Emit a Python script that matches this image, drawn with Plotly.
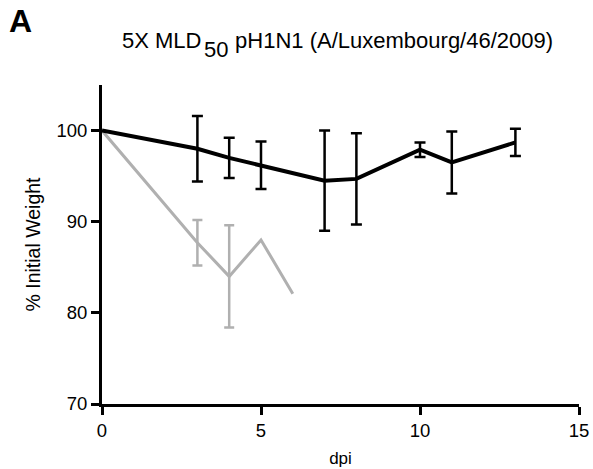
import plotly.graph_objects as go

# Data
dpi_a = [0, 3, 4, 5, 7, 8, 10, 11, 13]
weight_a = [100, 98.0, 97.0, 96.2, 94.5, 94.7, 97.9, 96.5, 98.7]
err_a = [None, 3.6, 2.2, 2.6, 5.5, 5.0, 0.8, 3.4, 1.5]

dpi_b = [0, 3, 4, 5, 6]
weight_b = [100, 87.7, 84.0, 88.0, 82.1]
err_b = [None, 2.5, 5.6, None, None]

x_ticks = [0, 5, 10, 15]
y_ticks = [70, 80, 90, 100]

title_pre = "5X MLD"
title_sub = "50"
title_post = " pH1N1 (A/Luxembourg/46/2009)"

BLACK = "#000000"
GRAY = "#b0b0b0"
FONT = "Liberation Sans, Arial, sans-serif"

W, H = 593, 469
ML, MR, MT, MB = 102, 14, 85, 65

fig = go.Figure()


def add_series(x, y, e, color, lw, ew, cap):
    ex = [xi for xi, ei in zip(x, e) if ei is not None]
    ey = [yi for yi, ei in zip(y, e) if ei is not None]
    ee = [ei for ei in e if ei is not None]
    fig.add_trace(go.Scatter(
        x=ex, y=ey, mode="markers", marker=dict(size=0.1, color=color, opacity=0),
        error_y=dict(type="data", array=ee, visible=True, color=color,
                     thickness=ew, width=cap),
        showlegend=False, hoverinfo="skip", cliponaxis=False))
    fig.add_trace(go.Scatter(
        x=x, y=y, mode="lines", line=dict(color=color, width=lw),
        showlegend=False, cliponaxis=False))


add_series(dpi_b, weight_b, err_b, GRAY, 3, 2.5, 5)
add_series(dpi_a, weight_a, err_a, BLACK, 4, 2.5, 5.5)


def px_x(px):
    return (px - ML) / (W - ML - MR)


def px_y(py):
    return 1 - (py - MT) / (H - MT - MB)


TFS = 22
title_y = 40
split_x = 202

fig.update_layout(
    width=W, height=H,
    margin=dict(l=ML, r=MR, t=MT, b=MB),
    paper_bgcolor="white", plot_bgcolor="white",
    font=dict(family=FONT, color="black", size=18),
    showlegend=False,
    xaxis=dict(range=[0, 15], tickvals=x_ticks, showline=True, linecolor="black",
               linewidth=3, ticks="outside", ticklen=8, tickwidth=3,
               tickcolor="black", showgrid=False, zeroline=False, automargin=False,
               tickfont=dict(size=18.5, family=FONT),
               title=dict(text="dpi", font=dict(size=17, family=FONT), standoff=12)),
    yaxis=dict(range=[70, 105], tickvals=y_ticks, showline=True, linecolor="black",
               linewidth=3, ticks="outside", ticklen=8, tickwidth=3,
               tickcolor="black", showgrid=False, zeroline=False, automargin=False,
               tickfont=dict(size=18.5, family=FONT),
               title=dict(text="% Initial Weight", font=dict(size=19.5, family=FONT),
                          standoff=11)),
    annotations=[
        dict(text="<b>A</b>", x=px_x(7), y=px_y(21), xref="paper", yref="paper",
             showarrow=False, font=dict(size=32, family=FONT), xanchor="left",
             yanchor="middle"),
        dict(text=title_pre, x=px_x(split_x), y=px_y(title_y), xref="paper", yref="paper",
             showarrow=False, font=dict(size=TFS, family=FONT),
             xanchor="right", yanchor="middle", borderpad=0),
        dict(text=title_sub, x=px_x(split_x + 1), y=px_y(title_y + 9), xref="paper", yref="paper",
             showarrow=False, font=dict(size=TFS, family=FONT),
             xanchor="left", yanchor="middle", borderpad=0),
        dict(text=title_post, x=px_x(split_x + 1 + 24.5), y=px_y(title_y), xref="paper", yref="paper",
             showarrow=False, font=dict(size=TFS, family=FONT),
             xanchor="left", yanchor="middle", borderpad=0),
    ],
)

fig.write_html("out.html")
